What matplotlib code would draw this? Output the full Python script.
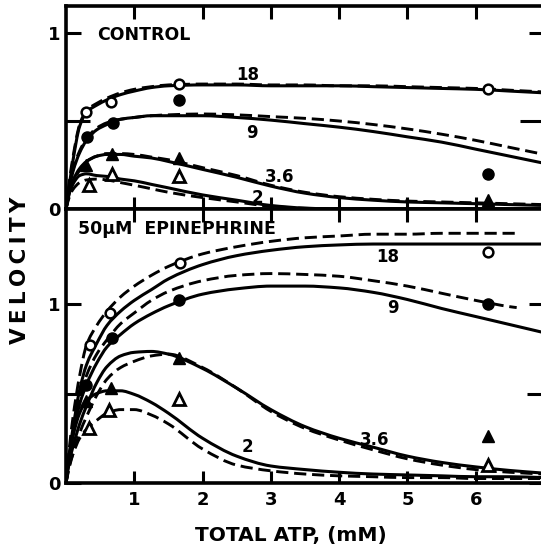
import matplotlib
matplotlib.use("Agg")
import numpy as np
import matplotlib.pyplot as plt
from matplotlib.path import Path
from matplotlib.patches import PathPatch

plt.rcParams['font.family'] = ['DejaVu Sans']
plt.rcParams['font.weight'] = 'bold'

# ---- data -------------------------------------------------------------
X = [0, 0.05, 0.1, 0.2, 0.3, 0.45, 0.6, 0.8, 1.0, 1.25, 1.5, 2.0, 2.5, 3.0,
     3.5, 4.0, 4.5, 5.0, 5.5, 6.0, 6.5, 7.0]
X_SHORT = X[:-1] + [6.6]

# Control
C18_SOLID = [0, 0.14, 0.27, 0.47, 0.55, 0.59, 0.62, 0.65, 0.67, 0.69, 0.70, 0.705,
             0.705, 0.70, 0.70, 0.70, 0.695, 0.69, 0.685, 0.68, 0.67, 0.66]
C18_DASH = [0, 0.16, 0.29, 0.48, 0.56, 0.60, 0.63, 0.66, 0.68, 0.695, 0.705, 0.71,
            0.71, 0.705, 0.705, 0.70, 0.70, 0.695, 0.69, 0.685, 0.675, 0.665]
C9_SOLID = [0, 0.12, 0.21, 0.32, 0.39, 0.45, 0.48, 0.51, 0.52, 0.53, 0.53, 0.53,
            0.52, 0.505, 0.485, 0.465, 0.44, 0.41, 0.38, 0.34, 0.30, 0.26]
C9_DASH = [0, 0.13, 0.22, 0.33, 0.40, 0.46, 0.49, 0.51, 0.52, 0.53, 0.535, 0.54,
           0.535, 0.525, 0.515, 0.50, 0.48, 0.455, 0.425, 0.39, 0.35, 0.31]
C36_SOLID = [0, 0.10, 0.16, 0.23, 0.27, 0.30, 0.31, 0.31, 0.30, 0.29, 0.27, 0.225,
             0.18, 0.13, 0.09, 0.065, 0.05, 0.04, 0.035, 0.03, 0.025, 0.02]
C36_DASH = [0, 0.09, 0.15, 0.22, 0.27, 0.30, 0.315, 0.315, 0.31, 0.295, 0.28, 0.235,
            0.19, 0.135, 0.095, 0.07, 0.055, 0.045, 0.04, 0.035, 0.03, 0.025]
C2_SOLID = [0, 0.09, 0.14, 0.19, 0.20, 0.19, 0.185, 0.17, 0.16, 0.14, 0.12, 0.08,
            0.05, 0.02, 0.005, 0, 0, 0, 0, 0, 0, 0]
C2_DASH = [0, 0.07, 0.11, 0.15, 0.165, 0.17, 0.165, 0.15, 0.135, 0.115, 0.095, 0.065,
           0.04, 0.015, 0.004, 0, 0, 0, 0, 0, 0, 0]

C_OPEN_CIRCLE_X = [0.29, 0.66, 1.66, 6.18]
C_OPEN_CIRCLE_Y = [0.55, 0.61, 0.71, 0.68]
C_FILLED_CIRCLE_X = [0.31, 0.69, 1.66, 6.18]
C_FILLED_CIRCLE_Y = [0.41, 0.49, 0.62, 0.20]
C_FILLED_TRI_X = [0.30, 0.68, 1.66, 6.18]
C_FILLED_TRI_Y = [0.25, 0.31, 0.29, 0.05]
C_OPEN_TRI_X = [0.34, 0.68, 1.66]
C_OPEN_TRI_Y = [0.135, 0.20, 0.19]

# 50 uM epinephrine
E18_DASH = [0, 0.20, 0.36, 0.60, 0.77, 0.88, 0.96, 1.04, 1.10, 1.16, 1.21, 1.28,
            1.32, 1.35, 1.37, 1.38, 1.39, 1.39, 1.395, 1.395, 1.395, 1.395]
E18_SOLID = [0, 0.17, 0.30, 0.52, 0.66, 0.78, 0.88, 0.96, 1.02, 1.08, 1.14, 1.22,
             1.27, 1.30, 1.32, 1.33, 1.335, 1.335, 1.335, 1.335, 1.335, 1.335]
E9_DASH = [0, 0.16, 0.28, 0.47, 0.60, 0.72, 0.80, 0.89, 0.95, 1.02, 1.07, 1.13,
           1.16, 1.17, 1.165, 1.155, 1.13, 1.10, 1.06, 1.02, 0.985, 0.98]
E9_SOLID = [0, 0.15, 0.26, 0.44, 0.55, 0.67, 0.76, 0.83, 0.89, 0.945, 0.99, 1.055,
            1.085, 1.10, 1.10, 1.09, 1.065, 1.025, 0.975, 0.93, 0.885, 0.84]
E36_SOLID = [0, 0.12, 0.20, 0.33, 0.43, 0.56, 0.65, 0.71, 0.73, 0.735, 0.72, 0.64,
             0.53, 0.41, 0.315, 0.25, 0.20, 0.15, 0.115, 0.09, 0.07, 0.055]
E36_DASH = [0, 0.09, 0.16, 0.28, 0.37, 0.49, 0.58, 0.645, 0.68, 0.71, 0.72, 0.645,
            0.53, 0.40, 0.305, 0.24, 0.185, 0.135, 0.10, 0.075, 0.06, 0.05]
E2_SOLID = [0, 0.16, 0.26, 0.39, 0.46, 0.50, 0.515, 0.515, 0.495, 0.45, 0.39, 0.25,
            0.15, 0.095, 0.075, 0.06, 0.05, 0.045, 0.04, 0.035, 0.035, 0.03]
E2_DASH = [0, 0.10, 0.16, 0.25, 0.30, 0.35, 0.39, 0.41, 0.41, 0.38, 0.33, 0.19,
           0.10, 0.068, 0.05, 0.04, 0.035, 0.03, 0.03, 0.025, 0.025, 0.025]

E_OPEN_CIRCLE_X = [0.35, 0.64, 1.67, 6.18]
E_OPEN_CIRCLE_Y = [0.77, 0.95, 1.23, 1.29]
E_FILLED_CIRCLE_X = [0.30, 0.67, 1.65, 6.18]
E_FILLED_CIRCLE_Y = [0.55, 0.81, 1.02, 1.00]
E_FILLED_TRI_X = [0.30, 0.66, 1.66, 6.18]
E_FILLED_TRI_Y = [0.46, 0.53, 0.70, 0.26]
E_OPEN_TRI_X = [0.34, 0.63, 1.65, 6.18]
E_OPEN_TRI_Y = [0.31, 0.41, 0.47, 0.10]

X_TICKS = [1, 2, 3, 4, 5, 6]
X_TICK_LABELS = ["1", "2", "3", "4", "5", "6"]
Y_TICKS = [0, 1]
Y_TICK_LABELS = ["0", "1"]
Y_MINOR_TICKS = [0.5]

# ---- figure -------------------------------------------------------------
W_PX, H_PX = 541, 547
fig = plt.figure(figsize=(W_PX / 100, H_PX / 100), dpi=100)
left = 66 / W_PX
width = (544 - 66) / W_PX
ax_top = fig.add_axes([left, 1 - 209 / H_PX, width, 203 / H_PX])
ax_bot = fig.add_axes([left, 1 - 483 / H_PX, width, 274 / H_PX])

LW = 2.2
DASH = (4.2, 2.0)


def style_axes(ax, ymax, bottom_labels, half_tick_len):
    ax.set_xlim(0, 7.0)
    ax.set_ylim(0, ymax)
    for s in ax.spines.values():
        s.set_linewidth(2.6)
    ax.set_xticks(X_TICKS)
    ax.set_xticklabels(X_TICK_LABELS if bottom_labels else [])
    ax.set_yticks(Y_TICKS)
    ax.set_yticklabels(Y_TICK_LABELS)
    ax.set_yticks(Y_MINOR_TICKS, minor=True)
    ax.tick_params(axis='x', direction='in', length=9, width=2.2, top=True,
                   bottom=True, labelsize=13, pad=6)
    ax.tick_params(axis='y', which='major', direction='in', length=11,
                   width=2.2, left=True, right=True, labelsize=13, pad=4)
    ax.tick_params(axis='y', which='minor', direction='in',
                   length=half_tick_len, width=2.2, left=True, right=True)
    for lab in ax.get_xticklabels() + ax.get_yticklabels():
        lab.set_fontweight('bold')


def smooth_path(xs, ys):
    """Piecewise cubic (shape-preserving) Bezier path through the points."""
    x = np.asarray(xs, float)
    y = np.asarray(ys, float)
    h = np.diff(x)
    d = np.diff(y) / h
    n = len(x)
    m = np.zeros(n)
    m[0], m[-1] = d[0], d[-1]
    for i in range(1, n - 1):
        if d[i - 1] * d[i] <= 0:
            m[i] = 0.0
        else:
            w1 = 2 * h[i] + h[i - 1]
            w2 = h[i] + 2 * h[i - 1]
            m[i] = (w1 + w2) / (w1 / d[i - 1] + w2 / d[i])
    verts = [(x[0], y[0])]
    codes = [Path.MOVETO]
    for i in range(n - 1):
        verts += [(x[i] + h[i] / 3, y[i] + m[i] * h[i] / 3),
                  (x[i + 1] - h[i] / 3, y[i + 1] - m[i + 1] * h[i] / 3),
                  (x[i + 1], y[i + 1])]
        codes += [Path.CURVE4] * 3
    return Path(verts, codes)


def curve(ax, xs, ys, dashed):
    patch = PathPatch(smooth_path(xs, ys), fill=False, edgecolor='black',
                      lw=LW * (0.95 if dashed else 1.0),
                      linestyle=(0, DASH) if dashed else '-',
                      capstyle='butt', joinstyle='round', zorder=2)
    ax.add_patch(patch)


def markers(ax, ox, oy, fx, fy, ftx, fty, otx, oty):
    ax.plot(otx, oty, ls='none', marker='^', ms=8, mfc='white', mec='black',
            mew=2.0, zorder=4)
    ax.plot(ftx, fty, ls='none', marker='^', ms=9, mfc='black', mec='black',
            zorder=4)
    ax.plot(fx, fy, ls='none', marker='o', ms=8, mfc='black', mec='black',
            zorder=4)
    ax.plot(ox, oy, ls='none', marker='o', ms=7, mfc='white', mec='black',
            mew=1.8, zorder=5)


# Control panel
style_axes(ax_top, 203 / 176, False, 17)
curve(ax_top, X, C18_SOLID, False)
curve(ax_top, X, C18_DASH, True)
curve(ax_top, X, C9_SOLID, False)
curve(ax_top, X, C9_DASH, True)
curve(ax_top, X, C36_SOLID, False)
curve(ax_top, X, C36_DASH, True)
curve(ax_top, X, C2_SOLID, False)
curve(ax_top, X, C2_DASH, True)
markers(ax_top, C_OPEN_CIRCLE_X, C_OPEN_CIRCLE_Y, C_FILLED_CIRCLE_X,
        C_FILLED_CIRCLE_Y, C_FILLED_TRI_X, C_FILLED_TRI_Y, C_OPEN_TRI_X,
        C_OPEN_TRI_Y)

ax_top.text(0.45, 0.99, "CONTROL", fontsize=12.5, fontweight='bold',
            va='center', ha='left')
lbl = dict(fontsize=12, fontweight='bold', ha='center', va='center', zorder=6)
ax_top.text(2.66, 0.76, "18", **lbl)
ax_top.text(2.72, 0.43, "9", **lbl)
ax_top.text(3.13, 0.18, "3.6", **lbl)
ax_top.text(2.80, 0.065, "2", **lbl)

# Epinephrine panel
style_axes(ax_bot, 274 / 179, True, 12)
curve(ax_bot, X_SHORT, E18_DASH, True)
curve(ax_bot, X, E18_SOLID, False)
curve(ax_bot, X_SHORT, E9_DASH, True)
curve(ax_bot, X, E9_SOLID, False)
curve(ax_bot, X, E36_SOLID, False)
curve(ax_bot, X, E36_DASH, True)
curve(ax_bot, X, E2_SOLID, False)
curve(ax_bot, X, E2_DASH, True)
markers(ax_bot, E_OPEN_CIRCLE_X, E_OPEN_CIRCLE_Y, E_FILLED_CIRCLE_X,
        E_FILLED_CIRCLE_Y, E_FILLED_TRI_X, E_FILLED_TRI_Y, E_OPEN_TRI_X,
        E_OPEN_TRI_Y)

ax_bot.text(0.18, 1.42, "50\u03bcM  EPINEPHRINE", fontsize=12.5,
            fontweight='bold', va='center', ha='left')
ax_bot.text(4.71, 1.26, "18", **lbl)
ax_bot.text(4.79, 0.98, "9", **lbl)
ax_bot.text(4.52, 0.24, "3.6", **lbl)
ax_bot.text(2.66, 0.20, "2", **lbl)

# Axis titles
fig.text(291 / W_PX, 1 - 535 / H_PX, "TOTAL ATP, (mM)", fontsize=14.5,
         fontweight='bold', ha='center', va='center')
fig.text(20 / W_PX, 1 - 270 / H_PX,
         "V\u2009E\u2009L\u2009O\u2009C\u2009I\u2009T\u2009Y", fontsize=15.5,
         fontweight='bold', ha='center', va='center', rotation=90)

fig.savefig("out.png", dpi=100)
